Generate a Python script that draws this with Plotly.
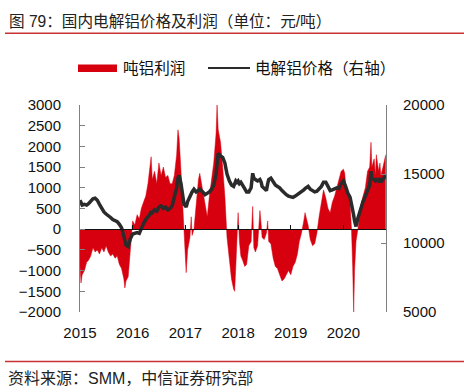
import plotly.graph_objects as go

# ---------------- data ----------------
dates = [
    "2015-01-01","2015-01-08","2015-01-16","2015-02-01","2015-02-16","2015-03-01","2015-03-16",
    "2015-04-01","2015-04-16","2015-05-01","2015-05-16","2015-06-01","2015-06-16","2015-07-01",
    "2015-07-16","2015-08-01","2015-08-16","2015-09-01","2015-09-16","2015-10-01","2015-10-16",
    "2015-11-01","2015-11-08","2015-11-16","2015-12-01","2015-12-16",
    "2016-01-01","2016-01-16","2016-02-01","2016-02-16","2016-03-01","2016-03-16","2016-04-01",
    "2016-04-16","2016-05-01","2016-05-08","2016-05-16","2016-06-01","2016-06-16","2016-07-01",
    "2016-07-16","2016-08-01","2016-08-16","2016-09-01","2016-09-16","2016-10-01","2016-10-16",
    "2016-11-01","2016-11-10","2016-11-18","2016-12-01","2016-12-12","2016-12-22",
    "2017-01-01","2017-01-06","2017-01-16","2017-02-01","2017-02-10","2017-02-16","2017-03-01",
    "2017-03-16","2017-04-01","2017-04-10","2017-05-01","2017-05-16","2017-06-01","2017-06-16",
    "2017-07-01","2017-07-16","2017-08-01","2017-08-08","2017-08-16","2017-09-01","2017-09-16",
    "2017-10-01","2017-10-16","2017-11-01","2017-11-16","2017-12-01","2017-12-08","2017-12-16",
    "2017-12-24",
    "2018-01-01","2018-01-10","2018-01-20","2018-02-01","2018-02-16","2018-03-01","2018-03-16",
    "2018-04-01","2018-04-12","2018-04-20","2018-05-01","2018-05-16","2018-06-01","2018-06-10",
    "2018-06-16","2018-07-01","2018-07-16","2018-07-25","2018-08-01","2018-08-16","2018-09-01",
    "2018-09-16","2018-10-01","2018-10-16","2018-11-01","2018-11-16","2018-12-01","2018-12-16",
    "2019-01-01","2019-01-16","2019-02-01","2019-02-16","2019-03-01","2019-03-16","2019-04-01",
    "2019-04-10","2019-04-20","2019-05-01","2019-05-16","2019-06-01","2019-06-16","2019-07-01",
    "2019-07-16","2019-08-01","2019-08-16","2019-09-01","2019-09-16","2019-10-01","2019-10-16",
    "2019-11-01","2019-11-16","2019-12-01","2019-12-16",
    "2020-01-01","2020-01-10","2020-01-16","2020-02-01","2020-02-16","2020-02-26","2020-03-05",
    "2020-03-12","2020-03-18","2020-03-28","2020-04-10","2020-04-20","2020-05-01","2020-05-16",
    "2020-06-01","2020-06-16","2020-07-01","2020-07-10","2020-07-16","2020-08-01","2020-08-10",
    "2020-08-16","2020-09-01","2020-09-10","2020-09-16","2020-10-01","2020-10-20",
]

profit = [  # 吨铝利润 (元/吨)
    -900,-1300,-1100,-1000,-800,-750,-650,
    -450,-550,-500,-600,-450,-550,-400,
    -550,-650,-600,-700,-650,-850,-950,
    -1200,-1420,-1250,-1150,-400,
    200,100,350,250,500,650,800,
    1100,1500,1750,1200,1400,1100,1600,
    1300,1500,1250,1300,1100,1100,1300,
    1800,2400,2200,1400,600,100,
    -600,-1050,-500,-200,300,-150,0,
    600,1200,1350,900,600,300,800,
    1200,1600,2300,3000,2400,2100,1500,
    800,-200,-700,-1200,-1450,-1500,-900,
    -200,
    400,-300,-650,-750,-900,-850,-400,
    -300,550,-450,-550,-400,450,100,
    -200,-250,-100,200,-300,-350,-700,
    -900,-950,-1100,-1250,-1200,-1100,-1000,
    -1100,-900,-800,-600,-300,-100,200,
    400,250,100,-250,-400,-350,-100,
    300,700,950,750,500,400,650,
    800,1000,1200,1400,
    1450,1350,1100,900,600,0,-900,
    -2000,-1000,-300,0,300,600,800,
    1000,1400,1500,2100,1500,1700,1300,
    1800,1400,1600,1300,1500,1800,
]

price = [  # 电解铝价格 (元/吨, 右轴)
    13100,12900,12750,12800,12750,12850,13000,
    13200,13250,13100,12800,12450,12250,12100,
    12000,11850,11700,11650,11550,11350,11100,
    10500,10050,9850,9750,10300,
    10650,10700,10750,10700,11100,11400,11700,
    11900,12100,12300,12200,12400,12300,12600,
    12700,12500,12600,12400,12500,12700,13300,
    14000,14700,14900,14300,13300,12800,
    12700,12600,13000,13400,13600,13700,13900,
    13700,13800,13900,13700,13500,13600,13700,
    13900,14200,15000,16000,16500,16300,16200,
    15800,15000,14500,14200,14100,14300,14500,
    14400,
    14500,14300,14400,14200,13900,13700,13700,
    14000,15050,14700,14600,14500,14600,14400,
    14100,13900,13800,14300,14600,14700,14400,
    14200,14100,14000,13800,13600,13500,13400,
    13350,13300,13400,13500,13600,13700,13850,
    13950,14050,14100,13900,13800,13700,13750,
    13900,14100,14400,14400,14100,13800,13850,
    13900,14000,13950,14300,
    14500,14300,14100,13600,13300,12800,12500,
    12000,11600,11200,11800,12200,12600,13000,
    13400,13800,14200,15200,14700,14600,14500,
    14600,14500,14700,14400,14600,14900,
]

year_ticks = ["2015-01-01","2016-01-01","2017-01-01","2018-01-01","2019-01-01","2020-01-01"]
year_labels = ["2015","2016","2017","2018","2019","2020"]
left_ticks = [3000,2500,2000,1500,1000,500,0,-500,-1000,-1500,-2000]
right_ticks = [20000,15000,10000,5000]
right_labels = ["20000","15000","10000","5000"]

title_text = "图 79：国内电解铝价格及利润（单位：元/吨）"
source_text = "资料来源：SMM，中信证券研究部"
name_profit = "吨铝利润"
name_price = "电解铝价格（右轴）"

# ---------------- figure ----------------
W, H = 464, 392
ML, MR, MT, MB = 80, 78, 105, 80
PW, PH = W - ML - MR, H - MT - MB
RED = "#D7000F"
DARK = "#2B2B2B"
FONT = "Liberation Sans, Arial, Noto Sans CJK SC, sans-serif"

def px(X):
    return (X - ML) / PW

def py(Y):
    return (H - MB - Y) / PH

xrange_ = ["2015-01-01", "2020-10-22"]

fig = go.Figure()
fig.add_trace(go.Scatter(
    x=dates, y=profit, mode="lines", fill="tozeroy",
    fillcolor=RED, line=dict(color=RED, width=0.5),
    name=name_profit, showlegend=False, hoverinfo="x+y",
))
fig.add_trace(go.Scatter(
    x=dates, y=price, mode="lines", yaxis="y2",
    line=dict(color=DARK, width=3.5),
    name=name_price, showlegend=False,
))
# invisible helper trace so the zero-line axis (x2) is drawn
fig.add_trace(go.Scatter(
    x=[dates[0]], y=[0], xaxis="x2", yaxis="y", mode="markers",
    marker=dict(opacity=0), showlegend=False, hoverinfo="skip",
))

fig.update_layout(
    width=W, height=H,
    margin=dict(l=ML, r=MR, t=MT, b=MB, pad=0),
    paper_bgcolor="white", plot_bgcolor="white",
    font=dict(family=FONT, size=15, color="#111111"),
    showlegend=False,
    xaxis=dict(
        type="date", range=xrange_, showgrid=False, zeroline=False,
        showline=False, ticks="", tickvals=year_ticks, ticktext=year_labels,
        ticklabelstandoff=10, tickfont=dict(size=15, color="#111111"),
    ),
    xaxis2=dict(
        type="date", range=xrange_, overlaying="x", anchor="free",
        position=0.4, side="bottom", showgrid=False, zeroline=False,
        showline=True, linecolor="#111111", linewidth=1,
        ticks="inside", ticklen=4, tickcolor="#111111", tickwidth=1,
        tickvals=year_ticks, showticklabels=False,
    ),
    yaxis=dict(
        range=[-2000, 3000], tickvals=left_ticks, showgrid=False, zeroline=False,
        showline=True, linecolor="#808080", linewidth=1,
        ticks="inside", ticklen=5, tickcolor="#808080",
        ticklabelstandoff=15, tickfont=dict(size=15, color="#111111"),
    ),
    yaxis2=dict(
        range=[5000, 20000], tickvals=right_ticks, ticktext=right_labels,
        overlaying="y", side="right",
        showgrid=False, zeroline=False,
        showline=True, linecolor="#808080", linewidth=1,
        ticks="inside", ticklen=5, tickcolor="#808080",
        ticklabelstandoff=13, tickfont=dict(size=15, color="#111111"),
    ),
)

shapes = [
    # title underline
    dict(type="line", xref="paper", yref="paper", x0=px(5), x1=px(464), y0=py(33.3), y1=py(33.3),
         line=dict(color="#C83232", width=1.5)),
    # footer line
    dict(type="line", xref="paper", yref="paper", x0=px(5), x1=px(464), y0=py(361.5), y1=py(361.5),
         line=dict(color="#C83232", width=1.5)),
    # legend swatches
    dict(type="rect", xref="paper", yref="paper", x0=px(78), x1=px(117), y0=py(72), y1=py(64.5),
         fillcolor=RED, line=dict(width=0)),
    dict(type="line", xref="paper", yref="paper", x0=px(208), x1=px(250), y0=py(68), y1=py(68),
         line=dict(color=DARK, width=2)),
]
annotations = [
    dict(text=title_text, xref="paper", yref="paper", x=px(7), y=py(21), xanchor="left",
         yanchor="middle", showarrow=False, font=dict(size=15.6, color="#222222")),
    dict(text=source_text, xref="paper", yref="paper", x=px(6), y=py(378), xanchor="left",
         yanchor="middle", showarrow=False, font=dict(size=16, color="#222222")),
    dict(text=name_profit, xref="paper", yref="paper", x=px(121), y=py(68), xanchor="left",
         yanchor="middle", showarrow=False, font=dict(size=15.6, color="#111111")),
    dict(text=name_price, xref="paper", yref="paper", x=px(253), y=py(68), xanchor="left",
         yanchor="middle", showarrow=False, font=dict(size=15.6, color="#111111")),
]
fig.update_layout(shapes=shapes, annotations=annotations)

fig.write_html(
    "out.html",
    config={"displayModeBar": False},
    post_script="document.body.style.margin='0';document.body.style.overflow='hidden';",
)
